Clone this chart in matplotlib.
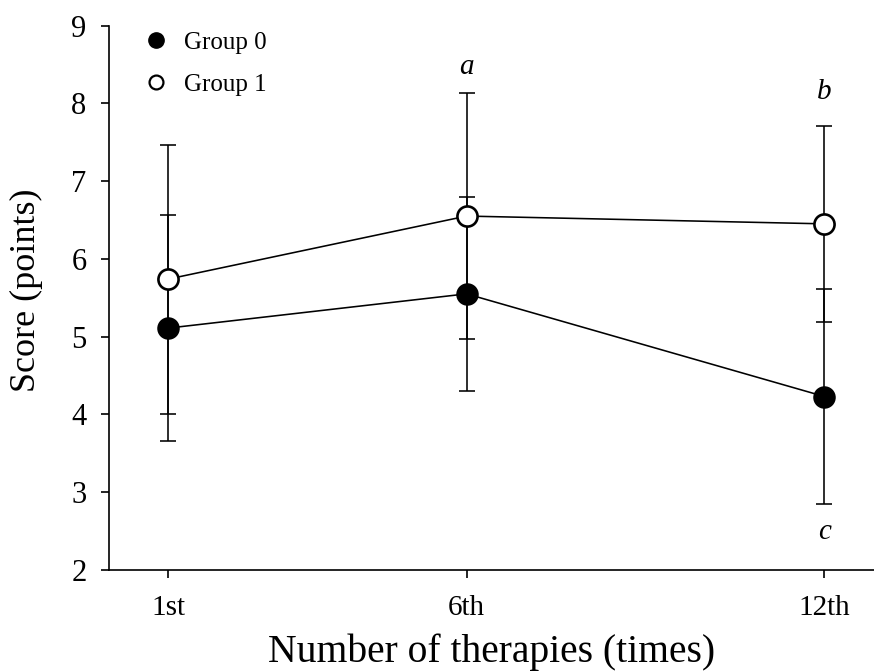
import matplotlib
matplotlib.use("Agg")
import matplotlib.pyplot as plt
from matplotlib.lines import Line2D

plt.rcParams['font.family'] = ['Liberation Serif', 'DejaVu Serif']

# data
x_pos = [1, 6, 12]
x_labels = ["1st", "6th", "12th"]
g0_mean = [5.11, 5.55, 4.23]
g0_err = [1.45, 1.245, 1.385]
g1_mean = [5.74, 6.55, 6.45]
g1_err = [1.73, 1.585, 1.26]
annot_text = ["a", "b", "c"]
annot_x = [6, 12, 12]
annot_y = [8.47, 8.15, 2.49]

fig = plt.figure(figsize=(8.74, 6.71), dpi=100)
ax = fig.add_axes([108.6/874, 1-570/671, 1-108.6/874, (570-25.5)/671])

lw = 1.15
for m, e in ((g0_mean, g0_err), (g1_mean, g1_err)):
    ax.errorbar(x_pos, m, yerr=e, fmt='none', ecolor='black', elinewidth=lw,
                capsize=6, capthick=lw, zorder=1)

ax.plot(x_pos, g0_mean, color='black', lw=lw, zorder=2)
ax.plot(x_pos, g1_mean, color='black', lw=lw, zorder=2)
ax.plot(x_pos, g0_mean, 'o', ms=15, mfc='black', mec='black', mew=1.2, zorder=3)
ax.plot(x_pos, g1_mean, 'o', ms=14.5, mfc='white', mec='black', mew=1.9, zorder=3)

for t, xx, yy in zip(annot_text, annot_x, annot_y):
    ax.text(xx, yy, t, fontsize=21, style='italic', ha='center', va='center')

ax.set_xlim(0, 12.83)
ax.set_ylim(2, 9)
ax.set_xticks(x_pos)
ax.set_xticklabels(x_labels)
ax.set_yticks(range(2, 10))
ax.spines['top'].set_visible(False)
ax.spines['right'].set_visible(False)
for s in ('left', 'bottom'):
    ax.spines[s].set_linewidth(1.2)
ax.tick_params(direction='out', length=6, width=1.2)
ax.tick_params(axis='y', labelsize=22, pad=10)
ax.tick_params(axis='x', labelsize=21, pad=12)

ax.set_xlabel("Number of therapies (times)", fontsize=28.5)
ax.set_ylabel("Score (points)", fontsize=26)
ax.xaxis.set_label_coords(0.5, -0.116)
ax.yaxis.set_label_coords(-0.0857, 0.513)

handles = [Line2D([], [], ls='none', marker='o', ms=11, mfc='black', mec='black'),
           Line2D([], [], ls='none', marker='o', ms=10, mfc='white', mec='black', mew=1.6)]
ax.legend(handles, ["Group 0", "Group 1"], loc='upper left', frameon=False,
          fontsize=18, bbox_to_anchor=(0.0456, 0.9895), borderaxespad=0, borderpad=0,
          handletextpad=0.6, labelspacing=0.79, handlelength=1.0)

fig.savefig("out.png", dpi=100)
